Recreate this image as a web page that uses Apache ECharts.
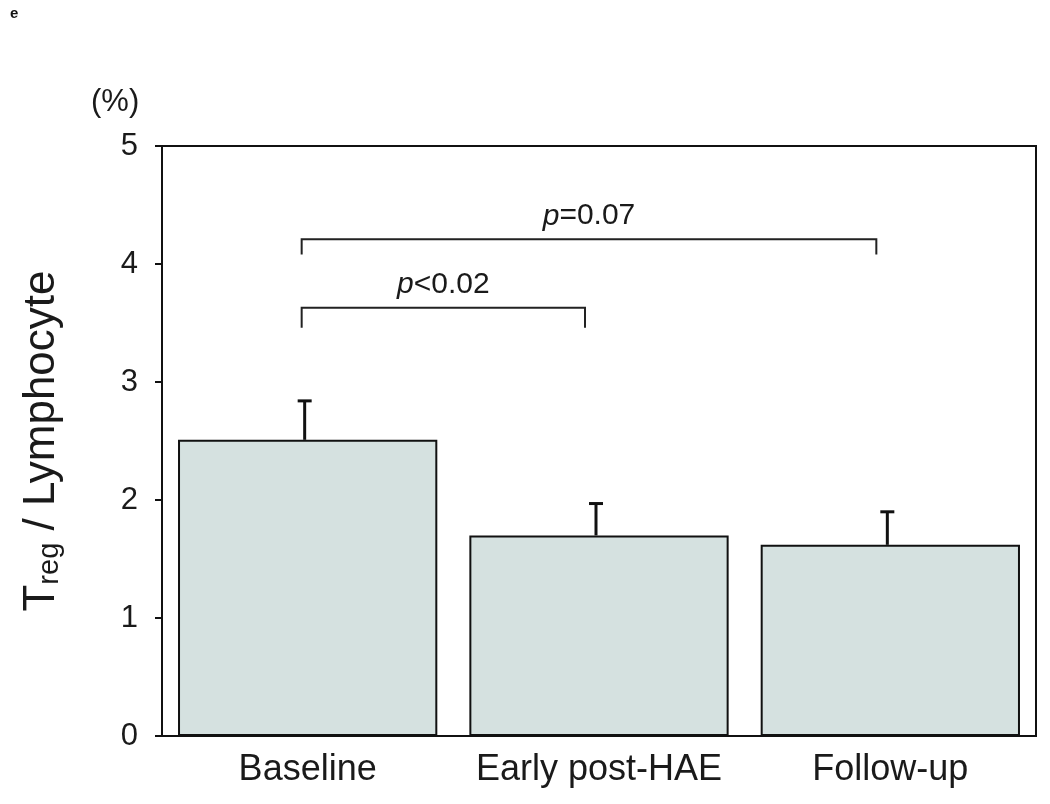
<!DOCTYPE html>
<html>
<head>
<meta charset="utf-8">
<script src="https://cdn.jsdelivr.net/npm/echarts@6/dist/echarts.min.js"></script>
<style>
  html, body { margin: 0; padding: 0; background: #fff; }
  #main { width: 1050px; height: 804px; }
</style>
</head>
<body>
<div id="main"></div>
<script>
// data
var categories = ['Baseline', 'Early post-HAE', 'Follow-up'];
var means = [2.51, 1.70, 1.62];
var upperErr = [2.84, 1.97, 1.90];
var yTicks = [0, 1, 2, 3, 4, 5];
// significance brackets: from / to category, bracket level, leg end, label
var bracketFrom = [0, 0];
var bracketTo = [2, 1];
var bracketTop = [4.21, 3.63];
var bracketLeg = [4.08, 3.46];
var bracketText = ['=0.07', '<0.02'];

var font = 'Liberation Sans, Arial, sans-serif';

var chartDom = document.getElementById('main');
var myChart = echarts.init(chartDom);
var option;

var errData = categories.map(function (c, i) { return [i, means[i], upperErr[i]]; });
var bracketData = bracketFrom.map(function (f, i) {
  return [f, bracketTo[i], bracketTop[i], bracketLeg[i]];
});

option = {
  animation: false,
  backgroundColor: '#fff',
  textStyle: { fontFamily: font },
  grid: {
    left: 162, right: 14, top: 146, bottom: 68,
    show: true, borderColor: '#111', borderWidth: 2
  },
  graphic: [
    { type: 'text', left: 10, top: 6, style: { text: 'e', font: 'bold 15px ' + font, fill: '#111' } },
    { type: 'text', left: 91, top: 87, style: { text: '(%)', font: '31px ' + font, fill: '#1a1a1a' } }
  ],
  xAxis: {
    type: 'category',
    data: categories,
    axisLine: { lineStyle: { color: '#111', width: 2 } },
    axisTick: { show: false },
    axisLabel: { interval: 0, fontSize: 36, color: '#1a1a1a', margin: 16, fontFamily: font },
    splitLine: { show: false }
  },
  yAxis: {
    type: 'value',
    min: yTicks[0],
    max: yTicks[yTicks.length - 1],
    interval: 1,
    splitLine: { show: false },
    axisLine: { show: true, lineStyle: { color: '#111', width: 2 } },
    axisTick: { show: true, inside: false, length: 7, lineStyle: { color: '#111', width: 2 } },
    axisLabel: { fontSize: 31, color: '#1a1a1a', margin: 24, fontFamily: font },
    name: '{t|T}{s|reg}{t| / Lymphocyte}',
    nameLocation: 'middle',
    nameRotate: 90,
    nameGap: 98,
    nameTextStyle: {
      rich: {
        t: { fontSize: 44, color: '#1a1a1a', fontFamily: font },
        s: { fontSize: 29, color: '#1a1a1a', fontFamily: font, verticalAlign: 'bottom', padding: [16, 0, 0, 0] }
      }
    }
  },
  series: [
    {
      type: 'bar',
      data: means,
      barCategoryGap: '11%',
      itemStyle: { color: '#d5e1e0', borderColor: '#111', borderWidth: 2 },
      z: 2
    },
    {
      type: 'custom',
      data: errData,
      encode: { x: 0, y: [1, 2] },
      z: 3,
      renderItem: function (params, api) {
        var i = api.value(0);
        var lo = api.coord([i, api.value(1)]);
        var hi = api.coord([i, api.value(2)]);
        var capHalf = 7;
        var x = hi[0] - 3;
        return {
          type: 'group',
          children: [
            { type: 'line', shape: { x1: x, y1: lo[1], x2: x, y2: hi[1] },
              style: { stroke: '#111', lineWidth: 3 } },
            { type: 'line', shape: { x1: x - capHalf, y1: hi[1], x2: x + capHalf, y2: hi[1] },
              style: { stroke: '#111', lineWidth: 3 } }
          ]
        };
      }
    },
    {
      type: 'custom',
      data: bracketData,
      encode: { x: [0, 1], y: [2, 3] },
      clip: false,
      z: 4,
      renderItem: function (params, api) {
        var a = api.coord([api.value(0), api.value(2)]);
        var b = api.coord([api.value(1), api.value(2)]);
        var legY = api.coord([api.value(0), api.value(3)])[1];
        var x1 = a[0] - 6, x2 = b[0] - 14;
        return {
          type: 'group',
          children: [
            { type: 'polyline',
              shape: { points: [[x1, legY], [x1, a[1]], [x2, a[1]], [x2, legY]] },
              style: { stroke: '#222', lineWidth: 2, fill: null } },
            { type: 'text',
              x: (x1 + x2) / 2, y: a[1] - 8,
              style: {
                text: '{i|p}{n|' + bracketText[params.dataIndex] + '}',
                align: 'center', verticalAlign: 'bottom',
                rich: {
                  i: { fontSize: 30, fontStyle: 'italic', fontFamily: font, fill: '#1a1a1a' },
                  n: { fontSize: 30, fontFamily: font, fill: '#1a1a1a' }
                }
              } }
          ]
        };
      }
    }
  ]
};

option && myChart.setOption(option);
</script>
</body>
</html>
